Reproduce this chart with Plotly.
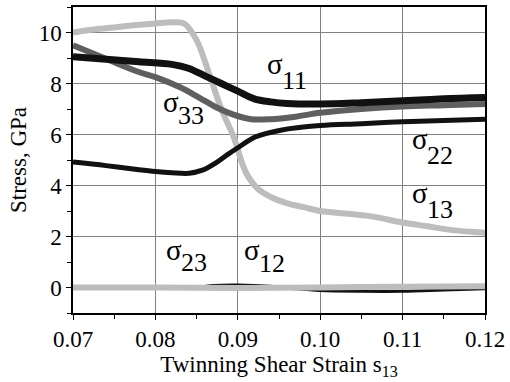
import plotly.graph_objects as go

# ---- data ----
s13_x = [0.070, 0.072, 0.075, 0.078, 0.080, 0.082, 0.0835, 0.085, 0.0865, 0.088, 0.0895, 0.091, 0.0925,
         0.094, 0.096, 0.098, 0.100, 0.103, 0.106, 0.110, 0.113, 0.116, 0.120]
s13_y = [10.0, 10.1, 10.2, 10.3, 10.35, 10.4, 10.35, 9.7, 8.4, 7.0, 5.9, 4.5, 3.85,
         3.55, 3.3, 3.15, 3.0, 2.9, 2.8, 2.55, 2.4, 2.25, 2.15]

s11_x = [0.070, 0.074, 0.078, 0.082, 0.084, 0.086, 0.088, 0.090, 0.092, 0.094, 0.096, 0.100, 0.105, 0.110, 0.115, 0.120]
s11_y = [9.05, 8.95, 8.85, 8.75, 8.6, 8.3, 8.0, 7.7, 7.4, 7.28, 7.22, 7.2, 7.25, 7.32, 7.4, 7.45]

s33_x = [0.070, 0.0745, 0.078, 0.080, 0.083, 0.0853, 0.0875, 0.0893, 0.0916, 0.094, 0.097, 0.100, 0.105, 0.110, 0.115, 0.120]
s33_y = [9.5, 8.9, 8.45, 8.25, 7.85, 7.45, 7.05, 6.8, 6.6, 6.6, 6.7, 6.85, 7.0, 7.1, 7.15, 7.2]

s22_x = [0.070, 0.074, 0.078, 0.080, 0.082, 0.0841, 0.0857, 0.0873, 0.0887, 0.0901, 0.0921, 0.0952,
         0.100, 0.105, 0.110, 0.115, 0.120]
s22_y = [4.92, 4.78, 4.62, 4.55, 4.5, 4.48, 4.6, 4.88, 5.2, 5.5, 5.9, 6.17, 6.35, 6.42, 6.5, 6.55, 6.6]

s12_x = [0.070, 0.085, 0.087, 0.090, 0.094, 0.097, 0.100, 0.105, 0.110, 0.115, 0.120]
s12_y = [0.0, 0.0, 0.08, 0.1, 0.05, -0.05, -0.12, -0.15, -0.15, -0.1, -0.05]

s23_x = [0.070, 0.080, 0.090, 0.100, 0.110, 0.120]
s23_y = [0.0, 0.0, -0.02, 0.0, 0.03, 0.05]

x_ticks = [0.07, 0.08, 0.09, 0.10, 0.11, 0.12]
x_tick_labels = ["0.07", "0.08", "0.09", "0.10", "0.11", "0.12"]
y_ticks = [0, 2, 4, 6, 8, 10]

LIGHT = "#bdbdbd"
DARK = "#5f5f5f"
BLACK = "#111111"
FONT = "Liberation Serif, Times New Roman, serif"

fig = go.Figure()
def add(x, y, color, width):
    fig.add_trace(go.Scatter(x=x, y=y, mode="lines", line=dict(color=color, width=width, shape="spline"),
                             showlegend=False, hoverinfo="skip"))

add(s13_x, s13_y, LIGHT, 6)
add(s33_x, s33_y, DARK, 6)
add(s11_x, s11_y, BLACK, 7)
add(s22_x, s22_y, BLACK, 5)
add(s12_x, s12_y, BLACK, 3)
add(s23_x, s23_y, LIGHT, 6)

# ---- labels: pixel positions converted to data coords ----
def px2x(px):
    return 0.07 + (px - 73) / 416 * 0.05
def py2y(py):
    return (288 - py) / 25.6

# (subscript, sigma right edge px, sigma centre y px, number centre y px)
labels = [
    ("11", 286, 64, 80),
    ("33", 181, 102, 115),
    ("22", 432, 139, 155),
    ("13", 432, 193, 210),
    ("23", 184, 250, 263),
    ("12", 263, 250, 264),
]
for sub, sx, sy, ny in labels:
    fig.add_annotation(x=px2x(sx), y=py2y(sy), text="σ", showarrow=False,
                       font=dict(family=FONT, size=29, color="#000"),
                       xanchor="right", yanchor="middle", borderpad=0)
    fig.add_annotation(x=px2x(sx - 3), y=py2y(ny), text=sub, showarrow=False,
                       font=dict(family=FONT, size=26, color="#000"),
                       xanchor="left", yanchor="middle", borderpad=0)

fig.update_layout(
    width=510, height=382,
    margin=dict(l=73, r=21, t=5, b=69),
    plot_bgcolor="white", paper_bgcolor="white",
    font=dict(family=FONT, size=23, color="#000"),
)
fig.update_xaxes(
    range=[0.07, 0.12], tickvals=x_ticks, ticktext=x_tick_labels,
    showgrid=True, gridcolor="#808080", gridwidth=1,
    showline=True, linecolor="#000", linewidth=1.5, mirror=True,
    ticks="outside", ticklen=5, tickcolor="#000",
    minor=dict(dtick=0.005, ticks="outside", ticklen=4, tickcolor="#000", showgrid=False),
    zeroline=False,
    title=dict(text="Twinning Shear Strain s<sub>13</sub>", font=dict(size=23), standoff=0),
)
fig.update_yaxes(
    range=[-1, 11], tickvals=y_ticks,
    showgrid=True, gridcolor="#808080", gridwidth=1,
    showline=True, linecolor="#000", linewidth=1.5, mirror=True,
    ticks="outside", ticklen=5, tickcolor="#000",
    minor=dict(dtick=1, ticks="outside", ticklen=4, tickcolor="#000", showgrid=False),
    zeroline=False,
    title=dict(text="Stress, GPa", font=dict(size=23), standoff=6),
)

fig.write_html("out.html", config={"displayModeBar": False},
               post_script="document.body.style.margin='0';document.body.style.overflow='hidden';")
